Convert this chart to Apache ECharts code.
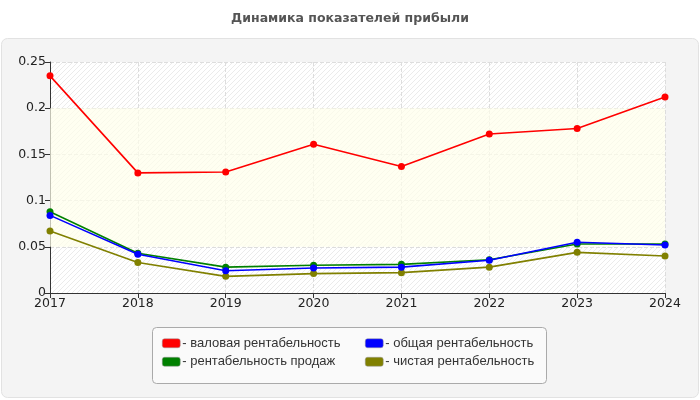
<!DOCTYPE html>
<html><head><meta charset="utf-8">
<script src="https://cdn.jsdelivr.net/npm/echarts@6/dist/echarts.min.js"></script>
<style>html,body{margin:0;padding:0;background:#fff}#c{width:700px;height:400px}</style>
</head><body><div id="c"></div>
<script>
const years = ['2017','2018','2019','2020','2021','2022','2023','2024'];
const grossMargin = [0.235, 0.130, 0.131, 0.161, 0.137, 0.172, 0.178, 0.212];
const totalMargin = [0.084, 0.042, 0.024, 0.027, 0.028, 0.0355, 0.055, 0.052];
const salesMargin = [0.088, 0.043, 0.028, 0.030, 0.031, 0.036, 0.053, 0.053];
const netMargin = [0.067, 0.033, 0.018, 0.021, 0.022, 0.028, 0.044, 0.040];
const names = ['валовая рентабельность','общая рентабельность','рентабельность продаж','чистая рентабельность'];
const colors = ['#ff0000','#0000ff','#008000','#808000'];

const cv = document.createElement('canvas');
cv.width = 5; cv.height = 5;
const cx = cv.getContext('2d');
cx.fillStyle = '#ffffff'; cx.fillRect(0,0,5,5);
cx.strokeStyle = '#ebebeb'; cx.lineWidth = 1;
cx.beginPath(); cx.moveTo(-1,6); cx.lineTo(6,-1); cx.stroke();
cx.beginPath(); cx.moveTo(-1,1); cx.lineTo(1,-1); cx.stroke();
cx.beginPath(); cx.moveTo(4,6); cx.lineTo(6,4); cx.stroke();

const font = 'DejaVu Sans, Verdana, sans-serif';
const lfont = 'Liberation Sans, Arial, sans-serif';
const chart = echarts.init(document.getElementById('c'));
function mk(i, data, z){
  return {name: names[i], type:'line', data: data, z: z,
    symbol:'circle', symbolSize:7, showSymbol:true,
    itemStyle:{color:colors[i]}, lineStyle:{color:colors[i], width:1.6},
    emphasis:{disabled:true}, animation:false};
}
const red = mk(0, grossMargin, 3);
red.markArea = {silent:true, itemStyle:{color:'rgba(255,255,235,0.7)'}, data:[[{yAxis:0.05},{yAxis:0.2}]]};
const legendCommon = {orient:'vertical', top:336, padding:0, itemGap:4,
  itemWidth:18, itemHeight:9, icon:'roundRect', formatter:'- {name}', selectedMode:false,
  itemStyle:{borderColor:'#999', borderWidth:0.5},
  textStyle:{fontSize:13, lineHeight:14.5, color:'#333', fontFamily:lfont, padding:[0,0,0,-3]}};
chart.setOption({
  animation:false,
  backgroundColor:'#ffffff',
  textStyle:{fontFamily:font},
  title:{text:'Динамика показателей прибыли', left:'center', top:12, padding:0,
    textStyle:{fontSize:12.5, fontWeight:'bold', color:'#555', fontFamily:font}},
  graphic:[
    {type:'rect', z:-100, silent:true, shape:{x:1.5,y:38.5,width:697,height:359,r:6}, style:{fill:'#f4f4f4', stroke:'#e2e2e2', lineWidth:1}},
    {type:'rect', z:-90, silent:true, shape:{x:152.5,y:327.5,width:394,height:56,r:4}, style:{fill:'#fafafa', stroke:'#aaaaaa', lineWidth:1}}
  ],
  grid:{left:50, right:35, top:62, bottom:107, show:true, borderWidth:0,
    backgroundColor:{image:cv, repeat:'repeat'}},
  legend:[
    Object.assign({data:[names[0], names[2]], left:162}, legendCommon),
    Object.assign({data:[names[1], names[3]], left:365}, legendCommon)
  ],
  xAxis:{type:'category', data:years, boundaryGap:false,
    axisLine:{lineStyle:{color:'#333', width:1}},
    axisTick:{show:true, length:5, lineStyle:{color:'#333'}, alignWithLabel:true},
    axisLabel:{fontSize:12.5, color:'#222', margin:4, fontFamily:font},
    splitLine:{show:true, lineStyle:{type:'dashed', color:'#dddddd'}}},
  yAxis:{type:'value', min:0, max:0.25, interval:0.05,
    axisLine:{show:true, lineStyle:{color:'#333', width:1}},
    axisTick:{show:true, length:5, lineStyle:{color:'#333'}},
    axisLabel:{fontSize:12.5, color:'#222', margin:4, fontFamily:font},
    splitLine:{show:true, lineStyle:{type:'dashed', color:'#dddddd'}}},
  series:[
    red,
    mk(2, salesMargin, 4),
    mk(3, netMargin, 4),
    mk(1, totalMargin, 5)
  ]
});
</script></body></html>
